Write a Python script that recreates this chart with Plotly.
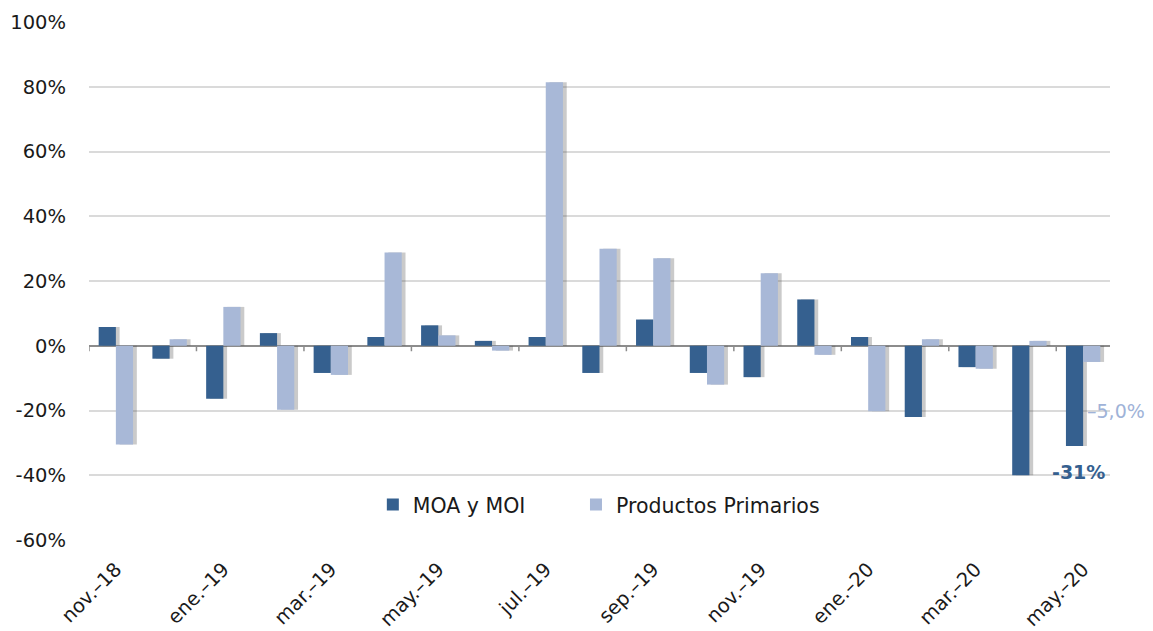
import plotly.graph_objects as go

categories = ["nov.–18", "dic.–18", "ene.–19", "feb.–19", "mar.–19", "abr.–19", "may.–19",
              "jun.–19", "jul.–19", "ago.–19", "sep.–19", "oct.–19", "nov.–19", "dic.–19",
              "ene.–20", "feb.–20", "mar.–20", "abr.–20", "may.–20"]
moa_moi = [5.8, -4.0, -16.4, 3.9, -8.4, 2.7, 6.3, 1.5, 2.7, -8.4, 8.1, -8.4, -9.7, 14.3,
           2.7, -22.0, -6.6, -40.0, -31.0]
productos_primarios = [-30.5, 2.0, 12.0, -19.8, -9.0, 28.8, 3.2, -1.5, 81.4, 30.0, 27.0, -12.0,
                       22.4, -2.8, -20.2, 2.0, -7.1, 1.5, -5.0]
y_tickvals = [-60, -40, -20, 0, 20, 40, 60, 80, 100]
y_ticktext = ["-60%", "-40%", "-20%", "0%", "20%", "40%", "60%", "80%", "100%"]
x_tick_labels = categories[::2]
last_labels = ["-31%", "-5,0%"]

DARK = "#35608F"
LIGHT = "#A8B8D7"
SHADOW = "rgba(80,80,80,0.30)"
FONT = "DejaVu Sans"
PAD = "\u00a0" * 7

xi = list(range(len(categories)))
W = 0.32
SH = 0.07

fig = go.Figure()
fig.add_trace(go.Bar(x=xi, y=moa_moi, offset=-W + SH, width=W, marker=dict(color=SHADOW, line=dict(width=0)),
                     showlegend=False, hoverinfo="skip"))
fig.add_trace(go.Bar(x=xi, y=moa_moi, offset=-W, width=W, name="MOA y MOI" + PAD,
                     marker=dict(color=DARK, line=dict(width=0))))
fig.add_trace(go.Bar(x=xi, y=productos_primarios, offset=SH, width=W, marker=dict(color=SHADOW, line=dict(width=0)),
                     showlegend=False, hoverinfo="skip"))
fig.add_trace(go.Bar(x=xi, y=productos_primarios, offset=0, width=W, name="Productos Primarios",
                     marker=dict(color=LIGHT, line=dict(width=0))))

shapes = []
for i in range(0, len(categories), 2):
    shapes.append(dict(type="line", xref="x", yref="y", x0=i - 0.5, x1=i - 0.5, y0=0, y1=-1.7,
                       line=dict(color="#8c8c8c", width=1.5)))

n = len(categories) - 1
annotations = [
    dict(x=n, y=-39, xref="x", yref="y", text="<b>" + last_labels[0] + "</b>", showarrow=False,
         xshift=-5, font=dict(family=FONT, size=19, color=DARK)),
    dict(x=n, y=-20.3, xref="x", yref="y", text="–" + last_labels[1][1:], showarrow=False,
         xshift=33, font=dict(family=FONT, size=19, color="#9FB3D8")),
]

fig.update_layout(
    width=1153, height=631,
    margin=dict(l=89, r=43, t=22, b=91, autoexpand=False),
    paper_bgcolor="white", plot_bgcolor="white",
    barmode="overlay",
    font=dict(family=FONT, size=19, color="#1a1a1a"),
    shapes=shapes,
    annotations=annotations,
    legend=dict(orientation="h", x=0.278, xanchor="left", y=0.068, yanchor="middle",
                font=dict(family=FONT, size=20.5, color="#1a1a1a"), bgcolor="rgba(0,0,0,0)",
                traceorder="normal"),
    xaxis=dict(range=[-0.5, len(categories) - 0.5], tickmode="array", tickvals=xi[::2],
               ticktext=x_tick_labels, tickangle=-45, showgrid=False, showline=False,
               zeroline=False, ticks="", ticklabelstandoff=13, automargin=False,
               tickfont=dict(family=FONT, size=19.5, color="#1a1a1a")),
    yaxis=dict(range=[-60, 100], tickmode="array", tickvals=y_tickvals, ticktext=y_ticktext,
               showgrid=True, gridcolor="#DADADA", gridwidth=1.5,
               zeroline=True, zerolinecolor="#8c8c8c", zerolinewidth=1.5,
               showline=False, ticks="", ticklabelstandoff=22, automargin=False,
               tickfont=dict(family=FONT, size=19.5, color="#1a1a1a")),
)

fig.write_html("out.html", config={"displayModeBar": False},
               post_script="document.body.style.margin='0';document.body.style.overflow='hidden';")
